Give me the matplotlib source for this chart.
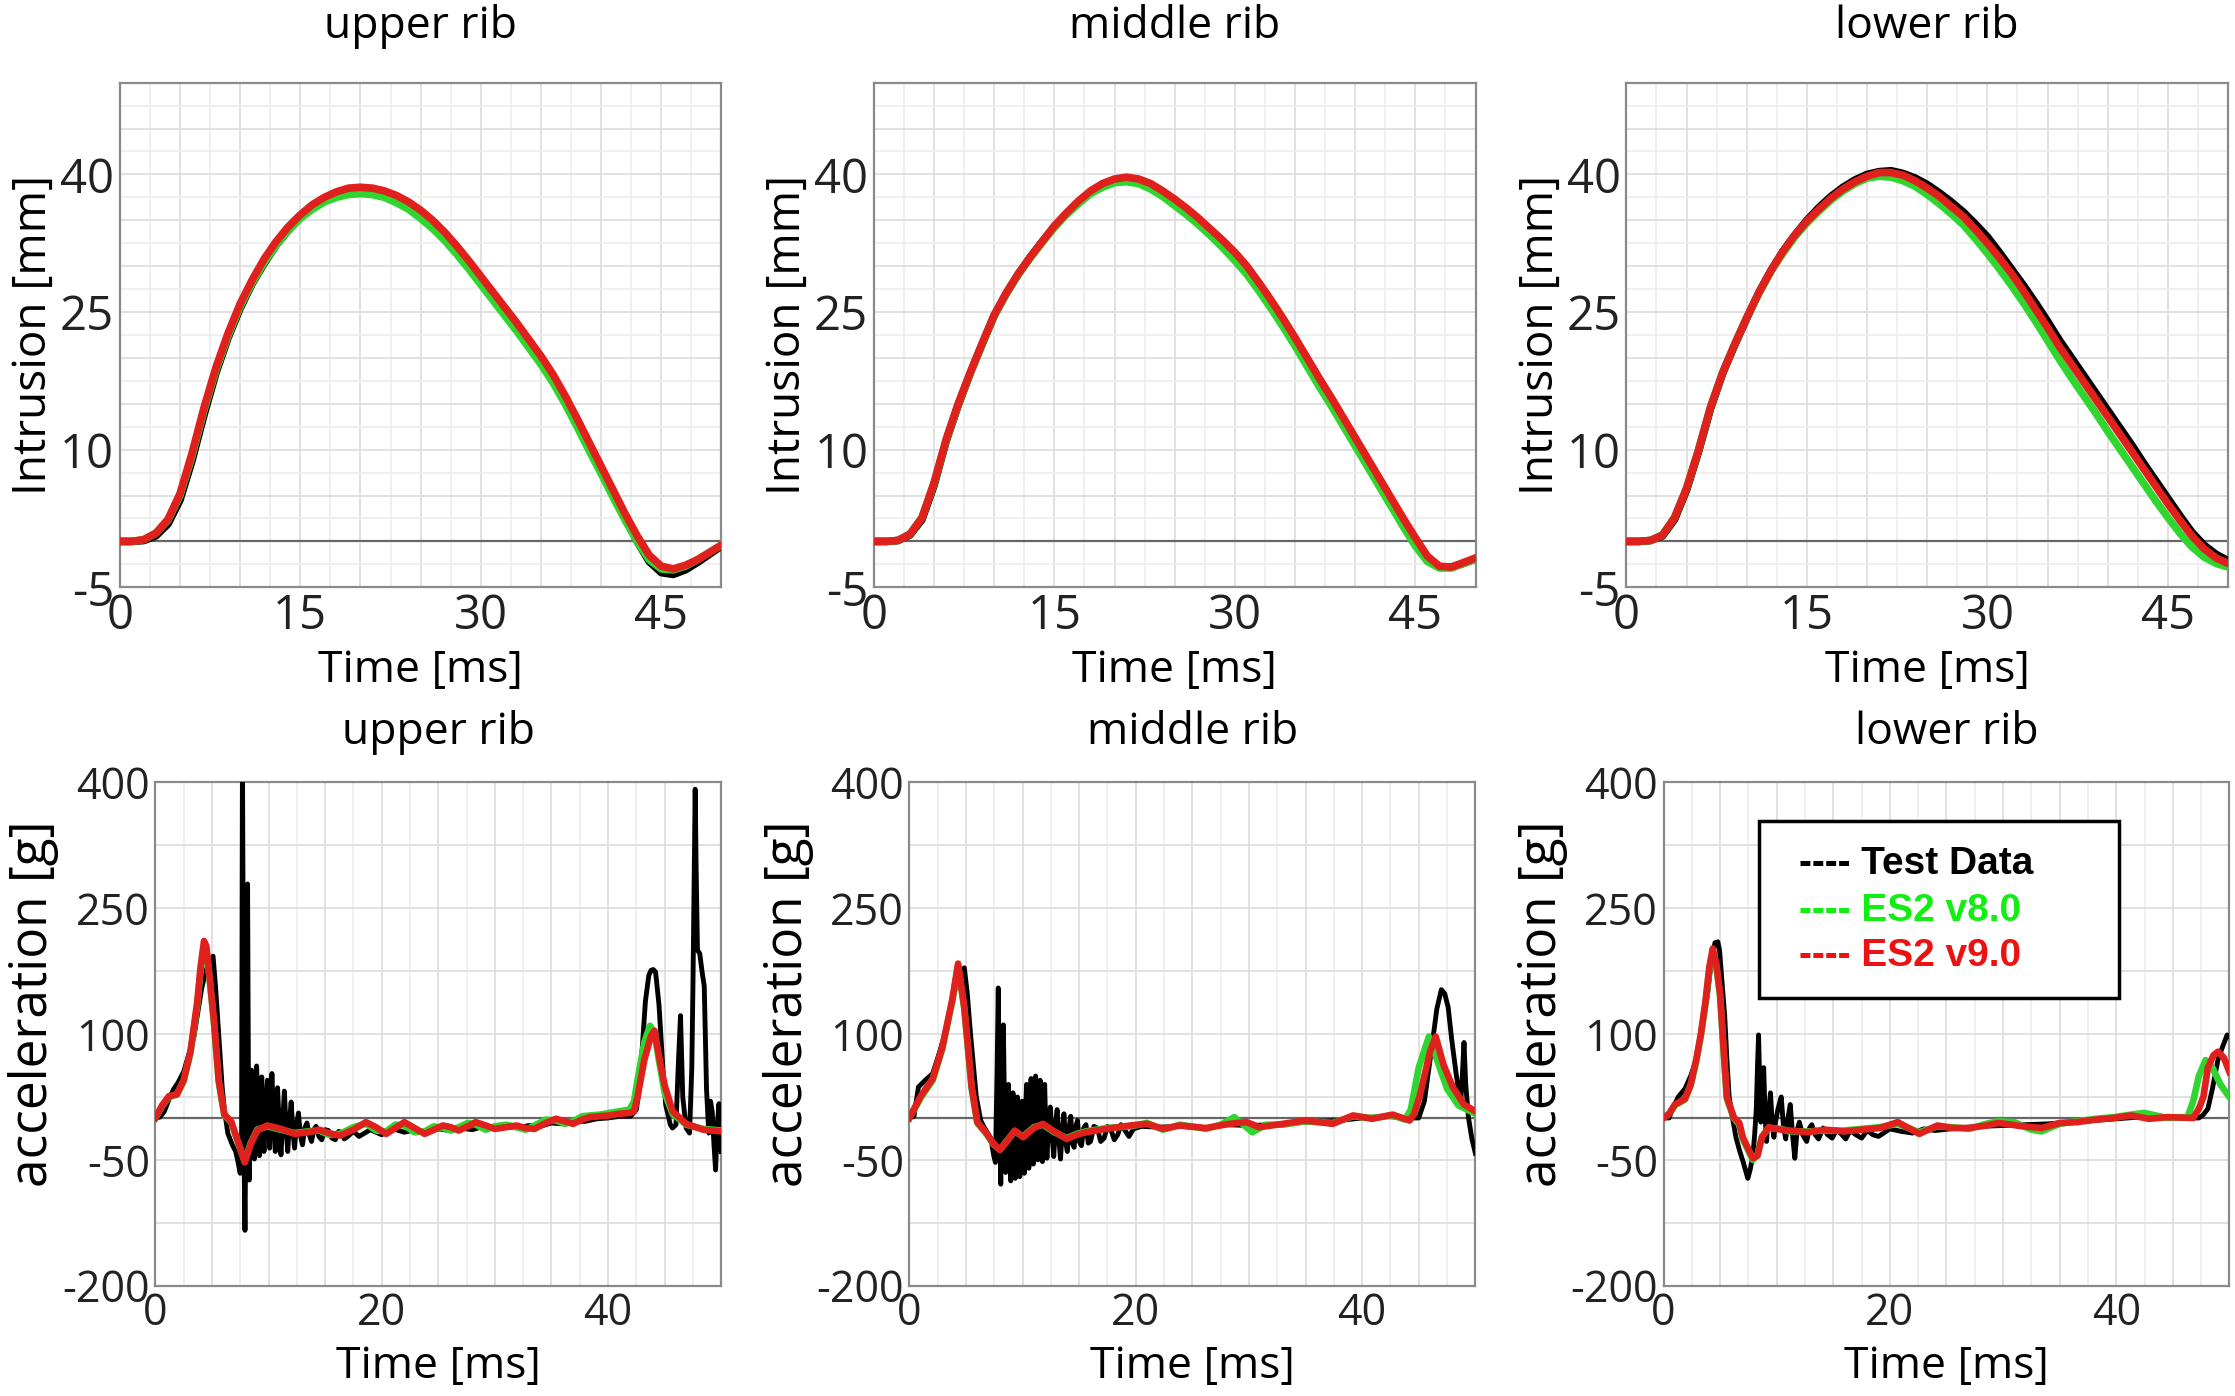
import numpy as np
import matplotlib
matplotlib.use("Agg")
import matplotlib.pyplot as plt
from matplotlib.patches import Rectangle

plt.rcParams['font.family'] = ['Open Sans', 'DejaVu Sans']
plt.rcParams['axes.unicode_minus'] = False

# ---------------- intrusion data (top row), one value per ms ----------------
t_top = list(range(51))

upper_test = [0, 0, 0.1, 0.6, 1.9, 4.5, 8.8, 13.8, 18.4, 22.2, 25.4, 28.1, 30.3, 32.3, 33.9, 35.3, 36.4,
              37.2, 37.7, 38.0, 38.1, 38.0, 37.7, 37.2, 36.5, 35.6, 34.5, 33.2, 31.7, 30.1, 28.4, 26.7,
              25.0, 23.3, 21.5, 19.7, 17.7, 15.4, 12.9, 10.3, 7.7, 5.1, 2.5, 0.0, -2.2, -3.4, -3.6, -3.1,
              -2.3, -1.4, -0.5]
upper_v8 = [0, 0, 0.2, 0.9, 2.3, 5.0, 9.3, 14.3, 18.7, 22.4, 25.6, 28.2, 30.4, 32.3, 33.9, 35.2, 36.2,
            37.0, 37.5, 37.8, 37.9, 37.8, 37.5, 36.9, 36.2, 35.2, 34.1, 32.8, 31.3, 29.7, 28.0, 26.3,
            24.6, 22.9, 21.1, 19.3, 17.3, 15.0, 12.5, 9.9, 7.4, 4.8, 2.3, 0.0, -2.0, -3.0, -3.1, -2.7,
            -2.0, -1.2, -0.4]
upper_v9 = [0, 0, 0.2, 0.9, 2.4, 5.2, 9.6, 14.6, 19.0, 22.7, 25.9, 28.5, 30.8, 32.7, 34.3, 35.6, 36.7,
            37.5, 38.1, 38.5, 38.6, 38.5, 38.2, 37.7, 37.0, 36.1, 35.0, 33.7, 32.2, 30.6, 28.9, 27.2,
            25.5, 23.8, 22.0, 20.2, 18.2, 15.9, 13.4, 10.8, 8.2, 5.6, 3.0, 0.6, -1.5, -2.7, -3.0, -2.6,
            -2.0, -1.2, -0.4]

middle_test = [0, 0, 0.1, 0.7, 2.4, 6.1, 10.9, 14.8, 18.3, 21.5, 24.6, 27.0, 29.1, 31.0, 32.7, 34.3, 35.7,
               37.0, 38.1, 38.9, 39.4, 39.6, 39.4, 38.9, 38.1, 37.2, 36.2, 35.1, 33.9, 32.7, 31.4, 29.9,
               28.1, 26.2, 24.2, 22.1, 19.9, 17.7, 15.6, 13.4, 11.2, 9.0, 6.8, 4.5, 2.3, 0.2, -1.8, -2.8,
               -2.8, -2.4, -1.9]
middle_v8 = [0, 0, 0.1, 0.8, 2.6, 6.3, 11.0, 14.9, 18.3, 21.5, 24.6, 27.0, 29.1, 30.9, 32.6, 34.2, 35.6,
             36.8, 37.9, 38.6, 39.1, 39.2, 39.0, 38.4, 37.6, 36.6, 35.6, 34.5, 33.3, 32.0, 30.6, 29.1,
             27.3, 25.4, 23.4, 21.3, 19.1, 16.9, 14.8, 12.6, 10.4, 8.2, 6.0, 3.8, 1.6, -0.5, -2.2, -2.9,
             -2.9, -2.4, -1.9]
middle_v9 = [0, 0, 0.1, 0.8, 2.6, 6.4, 11.1, 15.0, 18.4, 21.6, 24.7, 27.1, 29.2, 31.0, 32.7, 34.4, 35.8,
             37.1, 38.2, 39.0, 39.5, 39.7, 39.5, 39.0, 38.2, 37.3, 36.3, 35.2, 34.0, 32.8, 31.5, 30.0,
             28.2, 26.3, 24.3, 22.2, 20.0, 17.8, 15.7, 13.5, 11.3, 9.1, 6.9, 4.7, 2.5, 0.4, -1.6, -2.7,
             -2.8, -2.3, -1.8]

lower_test = [0, 0, 0.1, 0.6, 2.4, 5.6, 9.8, 14.5, 18.3, 21.4, 24.3, 27.1, 29.5, 31.6, 33.4, 35.0, 36.4,
              37.6, 38.6, 39.4, 40.0, 40.3, 40.4, 40.1, 39.6, 38.9, 38.0, 37.0, 35.9, 34.6, 33.2, 31.5,
              29.7, 27.9, 26.0, 24.0, 21.9, 20.0, 18.1, 16.2, 14.3, 12.4, 10.5, 8.5, 6.6, 4.7, 2.8, 1.0,
              -0.4, -1.4, -2.1]
lower_v8 = [0, 0, 0.1, 0.7, 2.6, 5.8, 10.0, 14.7, 18.4, 21.5, 24.4, 27.0, 29.4, 31.4, 33.2, 34.7, 36.0,
            37.2, 38.2, 39.0, 39.6, 39.8, 39.7, 39.3, 38.7, 37.8, 36.8, 35.7, 34.5, 33.0, 31.4, 29.7,
            27.9, 26.0, 24.0, 21.9, 19.8, 17.8, 15.9, 14.0, 12.0, 10.1, 8.2, 6.3, 4.4, 2.6, 0.9, -0.6,
            -1.7, -2.4, -2.8]
lower_v9 = [0, 0, 0.1, 0.7, 2.6, 5.8, 10.0, 14.7, 18.4, 21.5, 24.4, 27.1, 29.5, 31.6, 33.4, 34.9, 36.2,
            37.4, 38.4, 39.2, 39.8, 40.2, 40.2, 39.9, 39.3, 38.5, 37.6, 36.5, 35.4, 34.0, 32.5, 30.9,
            29.2, 27.3, 25.3, 23.3, 21.2, 19.3, 17.4, 15.5, 13.6, 11.7, 9.8, 7.9, 6.0, 4.1, 2.3, 0.6,
            -0.8, -1.8, -2.4]

# ---------------- acceleration data (bottom row), (time, g) pairs ----------------
acc_upper_test = [
    (0, 0), (0.4, 1), (0.8, 8), (1.2, 22), (1.6, 34), (2.0, 42), (2.5, 55), (3.0, 78), (3.4, 96), (3.8, 130),
    (4.1, 155), (4.4, 172), (4.6, 181), (4.85, 188), (5.1, 193), (5.3, 160), (5.5, 120), (5.7, 78), (5.9, 38),
    (6.1, 10), (6.4, -18), (6.8, -32), (7.1, -40), (7.3, -52), (7.5, -66), (7.62, -30), (7.7, 420), (7.78, 150),
    (7.85, -60), (7.92, -134), (7.98, -40), (8.06, 180), (8.15, 279), (8.22, 60), (8.3, -74), (8.4, 10),
    (8.5, 57), (8.62, -20), (8.75, -49), (8.85, 20), (8.95, 62), (9.07, 0), (9.2, -45), (9.3, 10), (9.4, 49),
    (9.5, -5), (9.6, -40), (9.75, 10), (9.9, 45), (10.0, 0), (10.1, -36), (10.2, 15), (10.3, 53), (10.45, 0),
    (10.6, -40), (10.7, 0), (10.8, 36), (10.95, -10), (11.1, -44), (11.25, -5), (11.4, 32), (11.55, -10),
    (11.7, -40), (11.85, -5), (12.0, 19), (12.15, -15), (12.3, -36), (12.45, -10), (12.65, 6), (12.8, -20),
    (13.0, -32), (13.2, -12), (13.4, -6), (13.6, -20), (13.8, -28), (14.0, -14), (14.2, -10), (14.45, -22),
    (14.7, -26), (15.0, -14), (15.3, -15), (15.6, -24), (15.9, -26), (16.2, -16), (16.4, -17), (16.7, -25),
    (17.0, -22), (17.5, -16), (18, -22), (19, -14), (20, -20), (21, -13), (22, -17), (23, -14), (24, -18),
    (25, -13), (26, -15), (27, -12), (28, -14), (29, -10), (30, -13), (31, -10), (32, -12), (33, -9), (34, -10),
    (35, -6), (36, -7), (37, -4), (38, -4), (39, -1), (40, 0), (41, 2), (42, 2), (42.5, 10), (42.8, 39),
    (43.1, 100), (43.3, 139), (43.6, 170), (43.8, 176), (44.0, 177), (44.2, 174), (44.5, 135), (44.7, 90),
    (44.9, 47), (45.1, 15), (45.3, 4), (45.5, -8), (45.7, -12), (46.0, -8), (46.2, 61), (46.4, 122), (46.6, 25),
    (46.9, -12), (47.2, -18), (47.4, 60), (47.5, 157), (47.62, 300), (47.7, 392), (47.78, 300), (47.9, 200),
    (48.1, 196), (48.3, 175), (48.5, 157), (48.7, 34), (48.9, -18), (49.05, 20), (49.2, 8), (49.35, -30),
    (49.5, -62), (49.65, -10), (49.8, 17), (50, -40)]
acc_upper_v8 = [
    (0, 0), (0.6, 14), (1.2, 25), (1.9, 28), (2.5, 44), (3.1, 77), (3.7, 134), (4.0, 176), (4.3, 206),
    (4.5, 202), (4.7, 178), (5.0, 138), (5.2, 110), (5.6, 43), (6.1, 3), (6.7, -5), (7.3, -29), (7.9, -52),
    (8.4, -31), (9.0, -14), (9.9, -10), (11.1, -14), (12.3, -18), (13.5, -16), (14.5, -15), (15.3, -20),
    (16.3, -19), (17.5, -11), (18.6, -7), (19.5, -15), (20.4, -16), (21.2, -8), (22.0, -9), (22.9, -17),
    (23.8, -16), (24.6, -10), (25.4, -12), (26.1, -15), (26.8, -11), (27.6, -6), (28.3, -8), (29.2, -14),
    (30.0, -10), (31.0, -8), (31.9, -11), (32.7, -14), (33.5, -9), (34.5, -2), (35.4, -3), (36.2, -7),
    (36.9, -4), (37.7, 2), (38.4, 3), (39.3, 4), (40.1, 6), (41.0, 8), (41.9, 10), (42.3, 20), (42.6, 45),
    (43.2, 90), (43.7, 110), (44.1, 102), (44.5, 68), (45.0, 30), (45.7, 5), (46.9, -8), (48.4, -13), (50, -15)]
acc_upper_v9 = [
    (0, 0), (0.6, 15), (1.2, 26), (1.9, 28), (2.5, 45), (3.1, 79), (3.7, 138), (4.0, 180), (4.3, 211),
    (4.5, 205), (4.7, 181), (5.0, 140), (5.2, 113), (5.6, 45), (6.1, 4), (6.7, -4), (7.3, -28), (7.9, -53),
    (8.4, -32), (9.0, -15), (9.9, -9), (11.1, -13), (12.3, -19), (13.5, -17), (14.5, -14), (15.3, -18),
    (16.3, -21), (17.5, -14), (18.6, -5), (19.5, -11), (20.4, -19), (21.2, -12), (22.0, -5), (22.9, -12),
    (23.8, -19), (24.6, -14), (25.4, -9), (26.1, -11), (26.8, -15), (27.6, -10), (28.3, -5), (29.2, -9),
    (30.0, -13), (31.0, -11), (31.9, -9), (32.7, -12), (33.5, -13), (34.5, -6), (35.4, -1), (36.2, -4),
    (36.9, -7), (37.7, -2), (38.4, 1), (39.3, 2), (40.1, 3), (41.0, 5), (41.9, 6), (42.3, 8), (42.6, 25),
    (43.2, 69), (43.8, 98), (44.1, 104), (44.5, 74), (45.0, 39), (45.7, 8), (46.9, -7), (48.4, -14), (50, -16)]

acc_middle_test = [
    (0, 0), (0.4, 2), (0.8, 37), (1.4, 45), (2.06, 53), (2.7, 80), (3.35, 111), (3.8, 140), (4.2, 163),
    (4.6, 176), (4.85, 179), (5.1, 150), (5.4, 100), (5.9, 26), (6.3, -3), (6.6, -11), (7.0, -20), (7.2, -25),
    (7.45, -45), (7.6, -53), (7.75, 60), (7.85, 155), (7.95, 20), (8.07, -79), (8.18, 30), (8.3, 111),
    (8.4, 10), (8.5, -65), (8.62, 0), (8.75, 40), (8.85, -20), (8.95, -75), (9.05, -10), (9.15, 30),
    (9.25, -30), (9.35, -72), (9.45, -10), (9.55, 25), (9.65, -35), (9.75, -70), (9.85, -15), (9.95, 20),
    (10.05, -40), (10.15, -66), (10.25, 0), (10.35, 40), (10.45, -20), (10.55, -60), (10.65, 10), (10.75, 47),
    (10.85, -10), (10.95, -55), (11.05, 5), (11.15, 50), (11.25, -5), (11.35, -50), (11.45, 0), (11.55, 45),
    (11.65, -10), (11.75, -52), (11.85, 0), (11.95, 40), (12.05, -15), (12.15, -48), (12.3, -5), (12.45, 13),
    (12.6, -20), (12.75, -46), (12.9, -10), (13.05, 10), (13.2, -25), (13.35, -49), (13.5, -15), (13.65, 5),
    (13.8, -28), (13.95, -40), (14.1, -12), (14.25, 2), (14.4, -30), (14.55, -35), (14.7, -10), (14.85, -3),
    (15.0, -28), (15.2, -33), (15.4, -12), (15.6, -8), (15.8, -30), (16.0, -28), (16.3, -10), (16.6, -12),
    (16.9, -28), (17.2, -24), (17.5, -10), (17.8, -14), (18.1, -26), (18.4, -20), (18.7, -8), (19.0, -14),
    (19.4, -22), (19.8, -13), (20.5, -10), (22, -11), (24, -10), (26, -12), (28, -8), (30, -9), (32, -8),
    (34, -6), (36, -4), (38, -3), (40, 0), (42, 2), (44, 0), (45, 0), (45.5, 20), (46.1, 79), (46.6, 130),
    (47.0, 153), (47.3, 148), (47.6, 132), (47.9, 95), (48.3, 53), (48.7, 16), (48.85, 50), (49.0, 90),
    (49.15, 40), (49.4, 0), (49.7, -25), (50, -42)]
acc_middle_v8 = [
    (0, 0), (1, 24), (2.06, 45), (2.9, 82), (3.8, 140), (4.3, 181), (4.85, 130), (5.5, 35), (6.0, -6),
    (6.8, -19), (7.4, -31), (8.0, -38), (8.5, -29), (9.3, -16), (10.05, -22), (11.0, -11), (11.8, -8),
    (12.8, -17), (13.9, -24), (14.8, -19), (15.6, -16), (17.4, -12), (19.5, -10), (21.0, -6), (22.4, -14),
    (23.9, -8), (26.2, -13), (27.5, -8), (28.7, 1), (30.3, -17), (31.5, -8), (33, -8), (35, -4), (37.4, -6),
    (39.2, 2), (40.9, 0), (42.7, 3), (43.8, -2), (44.3, 10), (45.0, 60), (45.9, 97), (46.6, 70), (47.5, 35),
    (48.5, 15), (50, 5)]
acc_middle_v9 = [
    (0, 0), (1, 26), (2.06, 47), (2.9, 84), (3.8, 142), (4.3, 184), (4.85, 132), (5.5, 37), (6.0, -5),
    (6.8, -18), (7.4, -30), (8.0, -38), (8.5, -30), (9.3, -15), (10.05, -23), (11.0, -12), (11.8, -7),
    (12.8, -16), (13.9, -25), (14.8, -20), (15.6, -17), (17.4, -13), (19.5, -9), (21.0, -7), (22.4, -13),
    (23.9, -9), (26.2, -12), (28.3, -7), (29.8, -5), (30.9, -11), (33, -7), (35, -3), (37.4, -7), (39.2, 3),
    (40.9, -1), (42.7, 4), (44.2, -3), (44.6, 5), (45.1, 27), (46.0, 79), (46.5, 97), (47.2, 63), (48, 37),
    (49, 16), (50, 8)]

acc_lower_test = [
    (0, 0), (0.5, 0), (0.8, 11), (1.3, 25), (1.9, 35), (2.4, 50), (2.9, 70), (3.4, 110), (3.9, 148),
    (4.25, 190), (4.55, 209), (4.8, 210), (4.95, 200), (5.15, 165), (5.4, 123), (5.6, 70), (5.8, 25),
    (6.1, 0), (6.4, -23), (6.7, -38), (7.05, -53), (7.3, -65), (7.45, -72), (7.65, -62), (7.9, -45),
    (8.05, -20), (8.2, 11), (8.3, 60), (8.4, 99), (8.5, 40), (8.6, -5), (8.72, 30), (8.85, 60), (8.97, 5),
    (9.1, -28), (9.25, 0), (9.45, 30), (9.6, -5), (9.75, -23), (9.9, -5), (10.1, 10), (10.4, 25), (10.6, -10),
    (10.8, -25), (11.0, 0), (11.2, 16), (11.4, -20), (11.6, -48), (11.8, -15), (12.0, -5), (12.3, -20),
    (12.65, -28), (12.9, -12), (13.1, -8), (13.4, -20), (13.7, -25), (14.1, -12), (14.5, -20), (14.9, -24),
    (15.3, -14), (15.7, -19), (16.1, -25), (16.5, -15), (17.0, -20), (17.5, -24), (18.0, -15), (18.5, -20),
    (19, -22), (20, -13), (21, -16), (22, -18), (23, -13), (24, -15), (26, -12), (28, -10), (30, -9),
    (32, -8), (34, -7), (36, -5), (38, -3), (40, -1), (42, 1), (44, 0), (46, 0), (47.3, 0), (47.7, 4),
    (48.1, 11), (48.5, 35), (49.0, 70), (49.4, 85), (49.8, 99), (50, 97)]
acc_lower_v8 = [
    (0, 0), (0.5, 5), (1, 15), (1.9, 22), (2.4, 39), (2.9, 68), (3.3, 98), (3.7, 135), (4.05, 177),
    (4.35, 198), (4.65, 182), (5.0, 145), (5.3, 82), (5.6, 23), (6.2, 0), (6.7, -8), (7.0, -25), (7.6, -42),
    (7.9, -50), (8.3, -44), (8.7, -22), (9.3, -12), (10.4, -13), (11.1, -16), (12.7, -16), (14.3, -15),
    (15.9, -15), (17.5, -13), (19.1, -11), (20.7, -7), (22.6, -17), (24.2, -10), (25.5, -11), (27, -13),
    (28.5, -7), (29.6, -4), (31.0, -5), (32.5, -14), (33.4, -16), (35, -7), (36.5, -4), (38.2, -1),
    (39.8, 1), (41.3, 4), (42.5, 6), (44.5, 0), (46.3, 1), (46.8, 20), (47.3, 50), (47.9, 69), (48.5, 60),
    (49.2, 40), (50, 25)]
acc_lower_v9 = [
    (0, 0), (0.5, 5), (1, 16), (1.9, 23), (2.4, 40), (2.9, 70), (3.3, 100), (3.7, 138), (4.05, 180),
    (4.35, 202), (4.65, 185), (5.0, 148), (5.3, 85), (5.6, 25), (6.2, 1), (6.7, -6), (7.0, -23), (7.6, -40),
    (7.9, -48), (8.3, -45), (8.7, -23), (9.3, -11), (10.4, -14), (11.1, -15), (12.7, -17), (14.3, -14),
    (15.9, -16), (17.5, -14), (19.1, -12), (20.7, -5), (22.6, -19), (24.2, -9), (25.5, -12), (27, -12),
    (28.5, -9), (29.6, -6), (31.8, -10), (33.4, -12), (35, -6), (36.5, -5), (38.2, -2), (39.8, 0),
    (41.3, 3), (42.9, -1), (44.5, 1), (46.8, 0), (47.3, 11), (47.7, 25), (48.1, 60), (48.6, 75), (49, 79),
    (49.5, 72), (50, 55)]

titles = ['upper rib', 'middle rib', 'lower rib']
labels = ['Test Data', 'ES2 v8.0', 'ES2 v9.0']
colors = ['black', '#2fd62f', '#e0201c']
legend_colors = ['black', '#11ee11', '#ee1111']

top_series = [(upper_test, upper_v8, upper_v9),
              (middle_test, middle_v8, middle_v9),
              (lower_test, lower_v8, lower_v9)]
bottom_series = [(acc_upper_test, acc_upper_v8, acc_upper_v9),
                 (acc_middle_test, acc_middle_v8, acc_middle_v9),
                 (acc_lower_test, acc_lower_v8, acc_lower_v9)]

FS = 32
fig = plt.figure(figsize=(22.35, 13.96), dpi=100)

top_left = [0.0536, 0.3910, 0.7277]
bot_left = [0.0695, 0.4069, 0.7443]


def style_axes(ax, ymaj, ystep, xlim, ylim, xticks, yticks, tick_fs):
    ax.set_xlim(*xlim)
    ax.set_ylim(*ylim)
    # light grid: darker every 5 ms, lighter in between
    for x in np.arange(xlim[0], xlim[1] + 0.01, 2.5):
        c = '#dcdcdc' if x % 5 == 0 else '#eeeeee'
        ax.axvline(x, color=c, lw=1.2, zorder=0)
    for y in np.arange(ylim[0], ylim[1] + 0.01, ystep):
        c = '#dcdcdc' if (y - ylim[0]) % ymaj == 0 else '#eeeeee'
        ax.axhline(y, color=c, lw=1.2, zorder=0)
    ax.axhline(0, color='#666666', lw=1.6, zorder=1)
    ax.set_xticks(xticks)
    ax.set_yticks(yticks)
    ax.tick_params(length=0, labelsize=tick_fs, pad=4, colors='#222222')
    for s in ax.spines.values():
        s.set_color('#8a8a8a')
        s.set_linewidth(1.6)


for i in range(3):
    ax = fig.add_axes([top_left[i], 0.5793, 0.2692, 0.3615])
    style_axes(ax, 5, 2.5, (0, 50), (-5, 50), [0, 15, 30, 45], [-5, 10, 25, 40], 34)
    for data, c in zip(top_series[i], colors):
        ax.plot(t_top, data, color=c, lw=5.5, solid_capstyle='round', zorder=3)
    ax.set_title(titles[i], fontsize=FS, pad=32)
    ax.set_xlabel('Time [ms]', fontsize=FS, labelpad=6)
    ax.set_ylabel('Intrusion [mm]', fontsize=33, labelpad=2)

for i in range(3):
    ax = fig.add_axes([bot_left[i], 0.0790, 0.2532, 0.3605])
    style_axes(ax, 75, 75, (0, 50), (-200, 400), [0, 20, 40], [-200, -50, 100, 250, 400], 31)
    for k, (data, c) in enumerate(zip(bottom_series[i], colors)):
        tt = [p[0] for p in data]
        aa = [p[1] for p in data]
        lw = 3.5 if k == 0 else 4.8
        ax.plot(tt, aa, color=c, lw=lw, zorder=3)
    ax.set_title(titles[i], fontsize=FS, pad=28)
    ax.set_xlabel('Time [ms]', fontsize=FS, labelpad=6)
    ax.set_ylabel('acceleration [g]', fontsize=37, labelpad=2, y=0.56)
    if i == 2:
        ax.add_patch(Rectangle((0.169, 0.572), 0.636, 0.352, transform=ax.transAxes,
                               facecolor='white', edgecolor='black', lw=2.5, zorder=5))
        for lab, c, y in zip(labels, legend_colors, [0.838, 0.745, 0.655]):
            ax.text(0.240, y, '---- ' + lab, transform=ax.transAxes, color=c,
                    fontsize=28, fontweight='bold', family=['Liberation Sans', 'DejaVu Sans'],
                    va='center', ha='left', zorder=6)

fig.savefig('out.png', dpi=100)
